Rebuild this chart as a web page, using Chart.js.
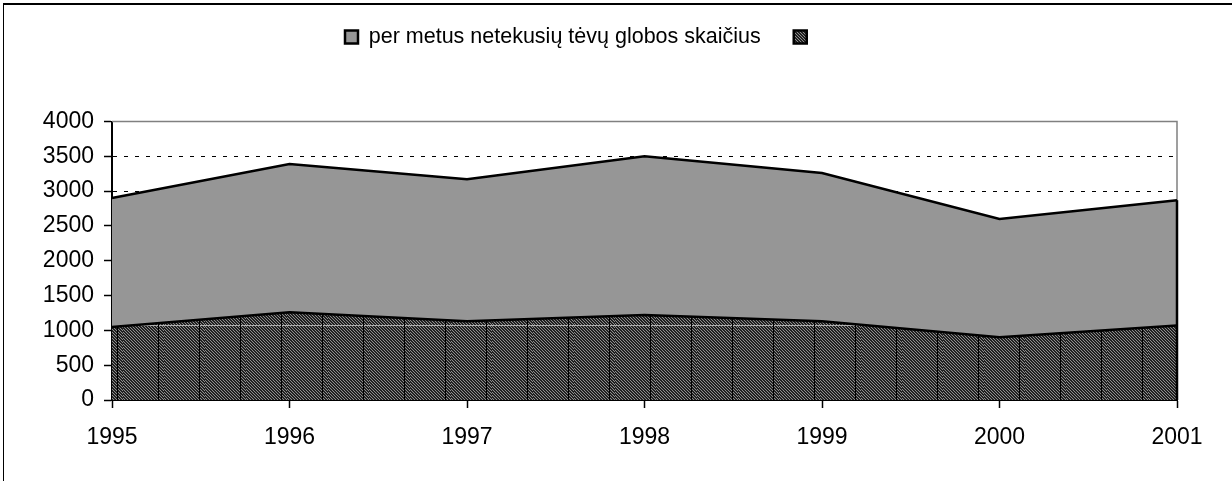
<!DOCTYPE html>
<html lang="lt">
<head>
<meta charset="utf-8">
<script src="https://cdn.jsdelivr.net/npm/chart.js@4.4.1/dist/chart.umd.min.js"></script>
<style>
  html, body { margin: 0; padding: 0; background: #fff; }
  /* outer chart-area frame, only its top and left edges fall inside the window */
  #frame { position: absolute; left: 3px; top: 3px; width: 1300px; height: 520px;
           border-top: 2px solid #000; border-left: 1px solid #000; box-sizing: border-box; }
  #wrap  { position: absolute; left: 0; top: 0; width: 1232px; height: 481px; }
</style>
</head>
<body>
<div id="frame"></div>
<div id="wrap"><canvas id="chart"></canvas></div>
<script>
// Data.
const YEARS         = ['1995', '1996', '1997', '1998', '1999', '2000', '2001'];
const SERIES_LABEL  = 'per metus netekusių tėvų globos skaičius';
const SERIES_VALUES = [2900, 3390, 3170, 3500, 3260, 2600, 2870];
const LOWER_LABEL   = '';
const LOWER_VALUES  = [1050, 1260, 1130, 1220, 1130, 900, 1070];
const Y_MIN = 0, Y_MAX = 4000, Y_STEP = 500;

const FONT = 'Liberation Sans, Arial, sans-serif';

// Excel-like dark hatch: fine diagonal stripes plus a vertical rule every tile.
const makeHatch = () => {
  const w = 41, h = 420;
  const c = document.createElement('canvas');
  c.width = w; c.height = h;
  const g = c.getContext('2d');
  const img = g.createImageData(w, h);
  for (let y = 0; y < h; y++) {
    for (let x = 0; x < w; x++) {
      let v = (((x - y) % 3) + 3) % 3 === 1 ? 140 : 32;
      if (y === 325) v = 175;
      if (x === 35) v = 0;
      const i = (y * w + x) * 4;
      img.data[i] = img.data[i + 1] = img.data[i + 2] = v;
      img.data[i + 3] = 255;
    }
  }
  g.putImageData(img, 0, 0);
  return g.createPattern(c, 'repeat');
};

// Gray plot-area border on top and right, drawn under the series.
const plotFrame = {
  id: 'plotFrame',
  beforeDatasetsDraw(chart) {
    const { ctx, chartArea: a } = chart;
    ctx.save();
    ctx.strokeStyle = '#808080';
    ctx.lineWidth = 1.5;
    ctx.beginPath();
    ctx.moveTo(a.left, a.top);
    ctx.lineTo(a.right, a.top);
    ctx.lineTo(a.right, a.bottom);
    ctx.stroke();
    ctx.restore();
  }
};

// Excel outlines the area's closing edge at the last category.
const closingEdge = {
  id: 'closingEdge',
  afterDatasetsDraw(chart) {
    const pts = chart.getDatasetMeta(1).data;
    const last = pts[pts.length - 1];
    if (!last) return;
    const { ctx, chartArea: a } = chart;
    ctx.save();
    ctx.strokeStyle = '#000';
    ctx.lineWidth = 2.5;
    ctx.beginPath();
    ctx.moveTo(last.x, last.y);
    ctx.lineTo(last.x, a.bottom);
    ctx.stroke();
    ctx.restore();
  }
};

// Legend sits well above the plot and left of centre, as in the reference.
const LEGEND_LEFT = 345, LEGEND_MID_Y = 37;
const legendAnchor = {
  id: 'legendAnchor',
  afterLayout(chart) {
    const lg = chart.legend;
    const pad = lg.options.labels.padding;
    const itemH = Math.max(lg.options.labels.font.size, lg.options.labels.boxHeight);
    const w = lg.right - lg.left, h = lg.bottom - lg.top;
    lg.left = LEGEND_LEFT - pad;
    lg.right = lg.left + w;
    lg.top = LEGEND_MID_Y - itemH / 2 - pad;
    lg.bottom = lg.top + h;
  }
};

const initChart = () => {
  const hatch = makeHatch();
  new Chart(document.getElementById('chart'), {
    type: 'line',
    data: {
      labels: YEARS,
      datasets: [
        {
          label: LOWER_LABEL,
          data: LOWER_VALUES,
          backgroundColor: hatch,
          borderColor: '#000',
          borderWidth: 2.5,
          fill: 'origin',
          pointRadius: 0,
          tension: 0
        },
        {
          label: SERIES_LABEL,
          data: SERIES_VALUES,
          backgroundColor: '#969696',
          borderColor: '#000',
          borderWidth: 2.5,
          fill: 'origin',
          pointRadius: 0,
          tension: 0
        }
      ]
    },
    options: {
      responsive: true,
      maintainAspectRatio: false,
      animation: false,
      layout: { padding: { top: 57, right: 55, bottom: 0, left: 0 } },
      plugins: {
        tooltip: { enabled: false },
        legend: {
          position: 'top',
          align: 'start',
          labels: {
            color: '#000',
            font: { family: FONT, size: 21.5 },
            boxWidth: 13,
            boxHeight: 13,
            padding: 33,
            sort: (a, b) => b.datasetIndex - a.datasetIndex
          }
        }
      },
      scales: {
        x: {
          offset: false,
          grid: { drawOnChartArea: false, tickLength: 8, tickColor: '#000', tickWidth: 1.5 },
          border: { color: '#000', width: 2 },
          ticks: { color: '#000', font: { family: FONT, size: 23 }, padding: 16,
                   maxRotation: 0, autoSkip: false },
          afterFit: (scale) => { scale.height = 81; }
        },
        y: {
          min: Y_MIN,
          max: Y_MAX,
          grid: { color: '#000', lineWidth: 1, tickLength: 8, tickColor: '#000', tickWidth: 1.5 },
          border: { color: '#000', width: 2, dash: [4, 7] },
          ticks: { stepSize: Y_STEP, color: '#000', font: { family: FONT, size: 23 }, padding: 10,
                   callback: (value) => String(value) },
          afterFit: (scale) => { scale.width = 112; }
        }
      }
    },
    plugins: [plotFrame, closingEdge, legendAnchor]
  });
};

document.addEventListener('DOMContentLoaded', initChart);
</script>
</body>
</html>
